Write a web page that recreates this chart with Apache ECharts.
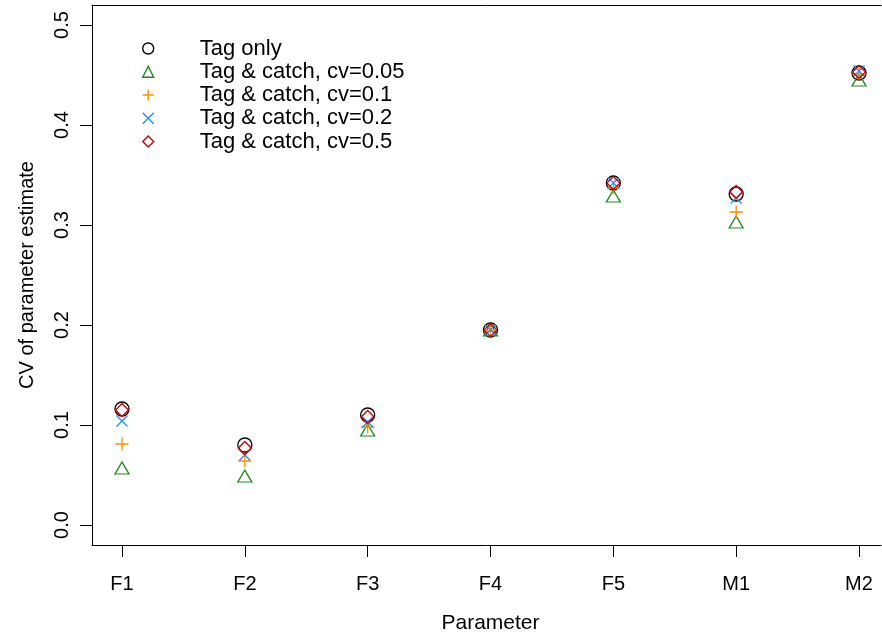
<!DOCTYPE html>
<html>
<head>
<meta charset="utf-8">
<script src="https://cdn.jsdelivr.net/npm/echarts@6/dist/echarts.min.js"></script>
<style>
html,body{margin:0;padding:0;background:#fff;}
#chart{width:882px;height:639px;}
</style>
</head>
<body>
<div id="chart"></div>
<script>
// ---- data ----
var categories = ['F1', 'F2', 'F3', 'F4', 'F5', 'M1', 'M2'];
var seriesNames = ['Tag only', 'Tag & catch, cv=0.05', 'Tag & catch, cv=0.1', 'Tag & catch, cv=0.2', 'Tag & catch, cv=0.5'];
var tagOnly = [0.116, 0.080, 0.110, 0.195, 0.342, 0.331, 0.452];
var cv005   = [0.055, 0.047, 0.093, 0.193, 0.327, 0.301, 0.443];
var cv01    = [0.081, 0.064, 0.098, 0.194, 0.337, 0.313, 0.451];
var cv02    = [0.104, 0.070, 0.103, 0.195, 0.342, 0.327, 0.454];
var cv05    = [0.115, 0.077, 0.108, 0.195, 0.342, 0.333, 0.453];
var yTicks  = [0.0, 0.1, 0.2, 0.3, 0.4, 0.5];

// ---- styling ----
var FONT = '"Liberation Sans", Arial, Helvetica, sans-serif';
var styles = [
  {symbol: 'circle', size: 14, color: '#000000', offset: [0, 0]},
  {symbol: 'triangle', size: [14, 12], color: '#1E8B1E', offset: [0, -2]},
  {symbol: 'path://M0,5L10,5M5,0L5,10', size: 13, color: '#FF8C00', offset: [0, 0]},
  {symbol: 'path://M0,0L10,10M0,10L10,0', size: 11, color: '#1E90FF', offset: [0, 0]},
  {symbol: 'path://M5,0L10,5L5,10L0,5Z', size: 13, color: '#CD0000', offset: [0, 0]}
];
var allValues = [tagOnly, cv005, cv01, cv02, cv05];
var xPositions = categories.map(function (c, i) { return i + 1; });

var series = allValues.map(function (vals, k) {
  var st = styles[k];
  return {
    name: seriesNames[k],
    type: 'scatter',
    symbol: st.symbol,
    symbolSize: st.size,
    symbolOffset: st.offset,
    itemStyle: {color: 'rgba(0,0,0,0)', borderColor: st.color, borderWidth: 1.3, opacity: 1},
    emphasis: {disabled: true},
    data: vals.map(function (v, i) { return [xPositions[i], v]; })
  };
});

var XMIN = 0.7558, XMAX = 7.179;
var chart = echarts.init(document.getElementById('chart'), null, {renderer: 'canvas'});
chart.setOption({
  animation: false,
  backgroundColor: '#ffffff',
  textStyle: {fontFamily: FONT},
  grid: {left: 92, top: 5, right: 1, height: 540, show: false},
  legend: {
    orient: 'vertical',
    left: 137, top: 32,
    itemWidth: 11, itemHeight: 11, itemGap: 0.25,
    selectedMode: false,
    itemStyle: {borderWidth: 1.4},
    textStyle: {fontFamily: FONT, fontSize: 22, color: '#000', padding: [0, 0, 0, 41], lineHeight: 23},
    data: seriesNames
  },
  xAxis: [{
    type: 'value', min: XMIN, max: XMAX, position: 'bottom',
    name: 'Parameter', nameLocation: 'middle', nameGap: 68,
    nameTextStyle: {fontFamily: FONT, fontSize: 21, color: '#000', padding: [0, 0, 0, 8]},
    axisLine: {show: true, onZero: false, lineStyle: {color: '#000', width: 1}},
    splitLine: {show: false},
    axisTick: {show: true, length: 12, customValues: xPositions, lineStyle: {color: '#000', width: 1}},
    axisLabel: {
      customValues: xPositions, margin: 29, fontFamily: FONT, fontSize: 20, color: '#000',
      formatter: function (v) { return categories[Math.round(v) - 1] || ''; }
    }
  }, {
    type: 'value', min: XMIN, max: XMAX, position: 'top',
    axisLine: {show: true, onZero: false, lineStyle: {color: '#000', width: 1}},
    axisTick: {show: false}, axisLabel: {show: false}, splitLine: {show: false}
  }],
  yAxis: {
    type: 'value', min: -0.02, max: 0.52,
    name: 'CV of parameter estimate', nameLocation: 'middle', nameGap: 55, nameRotate: 90,
    nameTextStyle: {fontFamily: FONT, fontSize: 20, color: '#000'},
    axisLine: {show: true, onZero: false, lineStyle: {color: '#000', width: 1}},
    splitLine: {show: false},
    axisTick: {show: true, length: 12, customValues: yTicks, lineStyle: {color: '#000', width: 1}},
    axisLabel: {
      customValues: yTicks, margin: 20, rotate: 90, fontFamily: FONT, fontSize: 20, color: '#000',
      formatter: function (v) { return v.toFixed(1); }
    }
  },
  series: series
});
</script>
</body>
</html>
